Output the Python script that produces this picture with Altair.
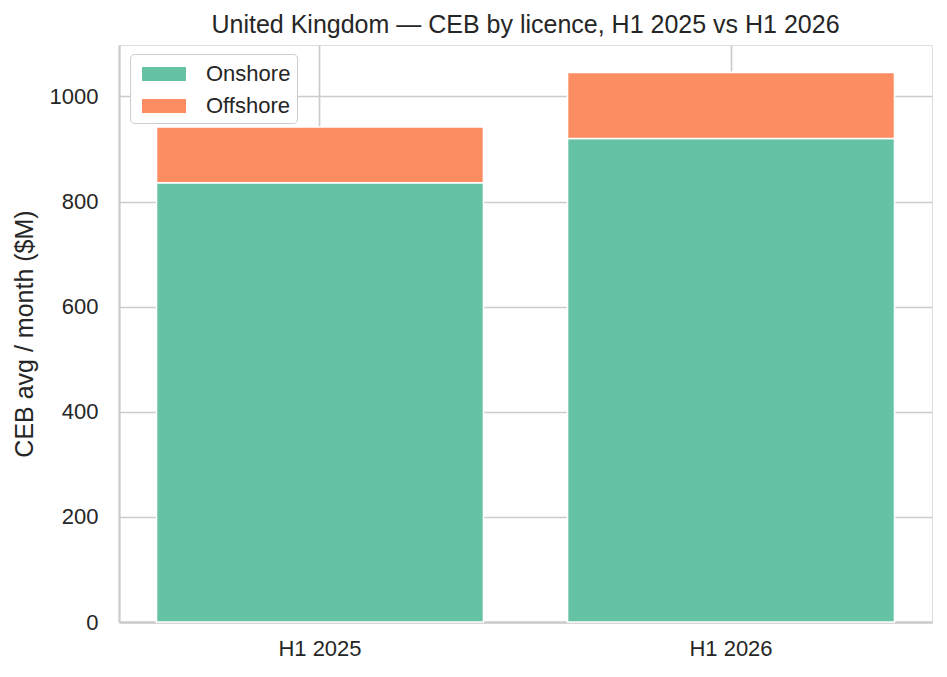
import altair as alt
import pandas as pd

periods = ["H1 2025", "H1 2026"]
licences = ["Onshore", "Offshore"]
onshore = [836, 920]
offshore = [106, 126]

rows = []
for i, p in enumerate(periods):
    rows.append({"period": p, "licence": "Onshore", "value": onshore[i], "ord": 0})
    rows.append({"period": p, "licence": "Offshore", "value": offshore[i], "ord": 1})
df = pd.DataFrame(rows)

FONT = "Liberation Sans"
TXT = "#262626"
GRID = "#cccccc"

chart = alt.Chart(df).mark_bar(stroke="white", strokeWidth=1.6).encode(
    x=alt.X("period:N", sort=periods, title=None,
            scale=alt.Scale(paddingInner=0.2044, paddingOuter=0.0912),
            axis=alt.Axis(labelAngle=0, grid=True, bandPosition=0.5, ticks=False,
                          labelPadding=16, labelFontSize=22, labelColor=TXT, labelFont=FONT,
                          domainColor=GRID, domainWidth=2.3, gridColor=GRID, gridWidth=1.7)),
    y=alt.Y("value:Q", stack="zero", title="CEB avg / month ($M)",
            scale=alt.Scale(domain=[0, 1098], nice=False),
            axis=alt.Axis(values=[0, 200, 400, 600, 800, 1000], format="d", ticks=False,
                          labelPadding=21,
                          labelFontSize=22, labelColor=TXT, labelFont=FONT,
                          titleFontSize=25, titleFont=FONT, titleColor=TXT, titleFontWeight="normal",
                          titlePadding=12,
                          domainColor=GRID, domainWidth=2.3, gridColor=GRID, gridWidth=1.7)),
    color=alt.Color("licence:N", sort=licences,
                    scale=alt.Scale(domain=licences, range=["#66c2a5", "#fc8d62"]),
                    legend=alt.Legend(title=None, orient="none", legendX=11, legendY=9,
                                      symbolType="M-0.571,-0.5H2.571V0.5H-0.571Z",
                                      symbolSize=784, symbolStrokeWidth=0,
                                      labelFontSize=22, labelFont=FONT, labelColor=TXT,
                                      labelOffset=42, padding=6, rowPadding=7,
                                      strokeColor=GRID, fillColor="white", cornerRadius=4)),
    order=alt.Order("ord:Q"),
).properties(
    width=813, height=577,
    title=alt.TitleParams("United Kingdom — CEB by licence, H1 2025 vs H1 2026",
                          fontSize=25, font=FONT, color=TXT, fontWeight="normal",
                          offset=7, frame="group", anchor="middle"),
    autosize=alt.AutoSizeParams(type="none"),
    padding={"left": 111, "top": 37, "right": 7, "bottom": 47},
).configure_view(stroke=None).configure(background="white")

chart.save("out.html", embed_options={"renderer": "svg", "actions": False})
